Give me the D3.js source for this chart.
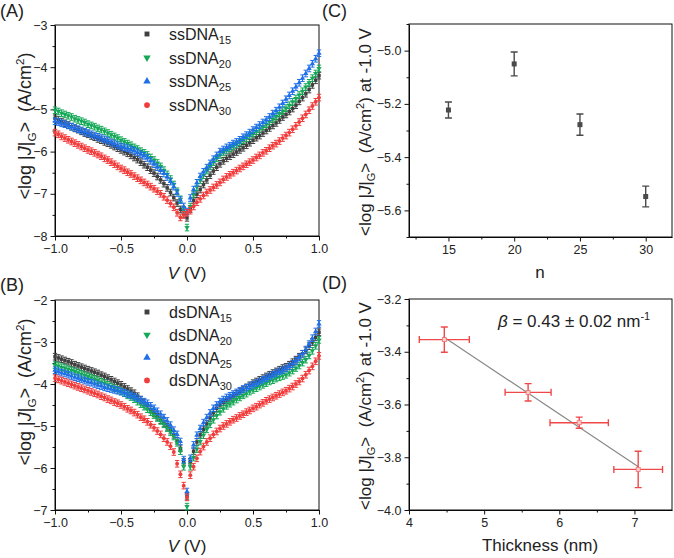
<!DOCTYPE html>
<html><head><meta charset="utf-8">
<script src="https://cdn.jsdelivr.net/npm/d3@7"></script>
<style>body{margin:0;background:#fff} svg{font-family:"Liberation Sans",Arial,sans-serif} text{white-space:pre}</style>
</head><body><svg id="c" width="674" height="558"></svg>
<script>
// ---------- DATA ----------
const voltage = d3.range(81).map(i => +(-1 + i * 0.025).toFixed(3));
const seriesSubs = ["15", "20", "25", "30"];
const seriesColors = ["#404040", "#14a857", "#1f6fe8", "#f23c3c"];

// Panel A: ssDNA, <log|J|G> vs V
const ss15 = [-5.21,-5.25,-5.29,-5.33,-5.37,-5.41,-5.45,-5.48,-5.52,-5.56,-5.59,-5.63,-5.66,-5.70,-5.73,-5.77,-5.80,-5.84,-5.88,-5.92,-5.96,-6.00,-6.04,-6.09,-6.14,-6.19,-6.25,-6.31,-6.37,-6.44,-6.51,-6.59,-6.67,-6.76,-6.86,-6.97,-7.09,-7.22,-7.37,-7.49,
  -7.57,
  -7.36,-7.16,-7.01,-6.90,-6.78,-6.67,-6.56,-6.46,-6.37,-6.29,-6.22,-6.16,-6.11,-6.06,-6.01,-5.96,-5.91,-5.85,-5.79,-5.73,-5.67,-5.62,-5.56,-5.50,-5.44,-5.38,-5.32,-5.25,-5.18,-5.12,-5.05,-4.98,-4.90,-4.81,-4.72,-4.63,-4.53,-4.42,-4.31,-4.20];
const ss20 = [-5.02,-5.05,-5.09,-5.12,-5.15,-5.18,-5.22,-5.25,-5.28,-5.31,-5.35,-5.38,-5.41,-5.45,-5.48,-5.52,-5.56,-5.60,-5.64,-5.68,-5.73,-5.77,-5.81,-5.85,-5.90,-5.94,-5.99,-6.03,-6.08,-6.14,-6.20,-6.27,-6.35,-6.44,-6.54,-6.65,-6.78,-6.94,-7.13,-7.38,
  -7.80,
  -7.30,-7.02,-6.84,-6.68,-6.56,-6.45,-6.35,-6.25,-6.16,-6.08,-6.02,-5.97,-5.92,-5.87,-5.83,-5.78,-5.73,-5.68,-5.62,-5.57,-5.52,-5.46,-5.41,-5.35,-5.29,-5.23,-5.17,-5.10,-5.04,-4.97,-4.90,-4.82,-4.74,-4.66,-4.57,-4.47,-4.37,-4.26,-4.15,-4.03];
const ss25 = [-5.28,-5.30,-5.33,-5.35,-5.38,-5.41,-5.44,-5.47,-5.50,-5.53,-5.56,-5.59,-5.62,-5.65,-5.68,-5.71,-5.74,-5.78,-5.81,-5.85,-5.88,-5.90,-5.92,-5.95,-5.98,-6.02,-6.06,-6.10,-6.15,-6.22,-6.30,-6.37,-6.45,-6.52,-6.60,-6.71,-6.83,-6.98,-7.15,-7.30,
  -7.42,
  -7.10,-6.90,-6.74,-6.59,-6.48,-6.38,-6.28,-6.18,-6.09,-6.00,-5.95,-5.90,-5.86,-5.81,-5.77,-5.72,-5.66,-5.61,-5.55,-5.49,-5.43,-5.37,-5.31,-5.25,-5.18,-5.10,-5.03,-4.95,-4.86,-4.76,-4.67,-4.57,-4.47,-4.37,-4.26,-4.15,-4.03,-3.92,-3.80,-3.67];
const ss30 = [-5.55,-5.59,-5.64,-5.68,-5.72,-5.76,-5.80,-5.84,-5.88,-5.92,-5.96,-5.99,-6.03,-6.07,-6.11,-6.16,-6.20,-6.25,-6.30,-6.35,-6.40,-6.44,-6.49,-6.53,-6.58,-6.63,-6.68,-6.73,-6.78,-6.83,-6.88,-6.94,-7.00,-7.07,-7.15,-7.23,-7.32,-7.45,-7.56,-7.50,
  -7.45,
  -7.40,-7.30,-7.20,-7.12,-7.04,-6.97,-6.91,-6.85,-6.79,-6.73,-6.66,-6.60,-6.55,-6.50,-6.45,-6.40,-6.35,-6.30,-6.25,-6.20,-6.14,-6.09,-6.03,-5.98,-5.92,-5.86,-5.81,-5.75,-5.68,-5.62,-5.55,-5.47,-5.39,-5.30,-5.21,-5.12,-5.02,-4.92,-4.82,-4.72];

// Panel B: dsDNA
const ds15 = [-3.35,-3.38,-3.41,-3.44,-3.47,-3.50,-3.54,-3.57,-3.60,-3.63,-3.66,-3.69,-3.72,-3.75,-3.79,-3.82,-3.86,-3.90,-3.94,-3.98,-4.02,-4.07,-4.12,-4.17,-4.22,-4.29,-4.37,-4.44,-4.52,-4.61,-4.70,-4.78,-4.86,-4.94,-5.02,-5.11,-5.21,-5.35,-5.53,-5.85,
  -6.68,
  -5.85,-5.60,-5.38,-5.21,-5.08,-4.95,-4.81,-4.68,-4.58,-4.50,-4.44,-4.38,-4.33,-4.28,-4.23,-4.18,-4.13,-4.08,-4.03,-3.98,-3.94,-3.90,-3.86,-3.82,-3.78,-3.74,-3.70,-3.66,-3.62,-3.59,-3.54,-3.48,-3.42,-3.35,-3.28,-3.20,-3.10,-3.00,-2.89,-2.77];
const ds20 = [-3.55,-3.57,-3.60,-3.62,-3.65,-3.68,-3.70,-3.73,-3.76,-3.79,-3.82,-3.85,-3.88,-3.91,-3.95,-3.98,-4.02,-4.06,-4.10,-4.14,-4.18,-4.22,-4.27,-4.31,-4.36,-4.42,-4.48,-4.54,-4.60,-4.67,-4.74,-4.81,-4.88,-4.96,-5.05,-5.15,-5.25,-5.40,-5.60,-5.97,
  -6.92,
  -5.97,-5.75,-5.55,-5.37,-5.22,-5.08,-4.96,-4.85,-4.75,-4.66,-4.59,-4.52,-4.47,-4.42,-4.37,-4.32,-4.27,-4.23,-4.18,-4.14,-4.10,-4.06,-4.02,-3.98,-3.94,-3.91,-3.87,-3.84,-3.81,-3.78,-3.73,-3.68,-3.62,-3.56,-3.49,-3.42,-3.32,-3.21,-3.09,-2.95];
const ds25 = [-3.67,-3.70,-3.73,-3.75,-3.78,-3.81,-3.84,-3.86,-3.89,-3.92,-3.95,-3.97,-4.00,-4.03,-4.05,-4.08,-4.10,-4.12,-4.14,-4.16,-4.18,-4.21,-4.24,-4.27,-4.30,-4.34,-4.38,-4.42,-4.46,-4.52,-4.58,-4.65,-4.72,-4.80,-4.88,-4.98,-5.10,-5.20,-5.37,-5.80,
  -6.56,
  -5.77,-5.45,-5.22,-5.06,-4.92,-4.80,-4.69,-4.58,-4.50,-4.42,-4.37,-4.32,-4.28,-4.24,-4.20,-4.16,-4.12,-4.09,-4.05,-4.02,-3.98,-3.94,-3.90,-3.86,-3.82,-3.78,-3.74,-3.70,-3.67,-3.63,-3.58,-3.52,-3.45,-3.37,-3.28,-3.18,-3.05,-2.91,-2.75,-2.57];
const ds30 = [-3.86,-3.89,-3.92,-3.95,-3.98,-4.01,-4.04,-4.07,-4.10,-4.13,-4.16,-4.19,-4.22,-4.25,-4.29,-4.32,-4.36,-4.39,-4.43,-4.46,-4.50,-4.54,-4.59,-4.63,-4.68,-4.73,-4.79,-4.84,-4.90,-4.97,-5.04,-5.12,-5.20,-5.29,-5.38,-5.48,-5.62,-5.90,-6.15,-6.42,
  -6.70,
  -6.17,-5.97,-5.77,-5.61,-5.49,-5.38,-5.29,-5.20,-5.13,-5.06,-5.00,-4.95,-4.90,-4.85,-4.81,-4.76,-4.72,-4.67,-4.63,-4.58,-4.54,-4.49,-4.45,-4.40,-4.36,-4.32,-4.28,-4.24,-4.20,-4.16,-4.11,-4.06,-4.00,-3.94,-3.87,-3.78,-3.68,-3.58,-3.46,-3.33];

// Panel C
const nValues = [15, 20, 25, 30];
const cMeans = [-5.223, -5.050, -5.278, -5.548];
const cErrors = [0.030, 0.045, 0.040, 0.039];

// Panel D
const thickness = [4.47, 5.585, 6.265, 7.05];
const thicknessErr = [0.333, 0.306, 0.388, 0.324];
const dMeans = [-3.354, -3.554, -3.669, -3.846];
const dErrors = [0.048, 0.033, 0.021, 0.069];
const fitX = [4.457, 7.052];
const fitY = [-3.343, -3.836];

// ---------- DRAW ----------
const svg = d3.select("#c");
const FONT_TICK = 12.5;

function drawAxes(x, y, xMajor, xMinor, yMajor, yMinor, xFmt, yFmt) {
  const [x0, x1] = x.range(), [y0, y1] = y.range();
  const gx = svg.append("g").attr("transform", `translate(0,${y0})`);
  gx.call(d3.axisBottom(x).tickValues(xMinor).tickSize(2.5).tickFormat("").tickSizeOuter(0));
  gx.call(g => g.select(".domain").remove());
  const gx2 = svg.append("g").attr("transform", `translate(0,${y0})`);
  gx2.call(d3.axisBottom(x).tickValues(xMajor).tickSize(4.5).tickPadding(4).tickFormat(xFmt).tickSizeOuter(0));
  const gy = svg.append("g").attr("transform", `translate(${x0},0)`);
  gy.call(d3.axisLeft(y).tickValues(yMinor).tickSize(2.5).tickFormat("").tickSizeOuter(0));
  gy.call(g => g.select(".domain").remove());
  const gy2 = svg.append("g").attr("transform", `translate(${x0},0)`);
  gy2.call(d3.axisLeft(y).tickValues(yMajor).tickSize(4.5).tickPadding(3).tickFormat(yFmt).tickSizeOuter(0));
  svg.selectAll(".tick text").attr("font-size", FONT_TICK).attr("font-family", '"Liberation Sans",Arial,sans-serif').attr("fill", "#222");
  svg.selectAll(".tick line").attr("stroke", "#111");
  svg.append("rect").attr("x", x0).attr("y", y1).attr("width", x1 - x0).attr("height", y0 - y1)
    .attr("fill", "none").attr("stroke", "#111").attr("stroke-width", 1);
}

function yTitle(cx, cy, size, parts) {
  const t = svg.append("text").attr("transform", `translate(${cx},${cy}) rotate(-90)`)
    .attr("text-anchor", "middle").attr("font-size", size).attr("fill", "#222");
  parts.forEach(p => {
    const s = t.append("tspan").text(p.t);
    if (p.sub) s.attr("font-size", size * 0.65).attr("dy", size * 0.25);
    if (p.sup) s.attr("font-size", size * 0.65).attr("dy", -size * 0.4);
    if (p.dy) s.attr("dy", p.dy);
    if (p.it) s.attr("font-style", "italic");
  });
}

function symbolFor(i, size) {
  const types = [d3.symbolSquare, d3.symbolTriangle, d3.symbolTriangle, d3.symbolCircle];
  return d3.symbol().type(types[i]).size(size)();
}
const rot = [0, 180, 0, 0];

function drawIV(x, y, seriesList, legendX, legendY, legendStep, prefix) {
  seriesList.forEach((vals, si) => {
    const g = svg.append("g").attr("stroke", seriesColors[si]).attr("fill", seriesColors[si]);
    vals.forEach((v, k) => {
      const px = x(voltage[k]), py = y(v);
      g.append("path").attr("d", `M${px},${py - 3.3}V${py + 3.3}M${px - 2.2},${py - 3.3}H${px + 2.2}M${px - 2.2},${py + 3.3}H${px + 2.2}`)
        .attr("stroke-width", 1).attr("fill", "none");
      g.append("path").attr("d", symbolFor(si, 12)).attr("stroke", "none")
        .attr("transform", `translate(${px},${py}) rotate(${rot[si]})`);
    });
  });
  seriesList.forEach((vals, si) => {
    const ly = legendY + si * legendStep;
    svg.append("path").attr("d", symbolFor(si, si === 3 ? 26 : 24)).attr("fill", seriesColors[si])
      .attr("transform", `translate(${legendX},${ly}) rotate(${rot[si]})`);
    const t = svg.append("text").attr("x", legendX + 22).attr("y", ly + 6).attr("font-size", 16).attr("fill", "#222");
    t.append("tspan").text(prefix);
    t.append("tspan").text(seriesSubs[si]).attr("font-size", 11).attr("dy", 4);
  });
}

// Panel A
const xA = d3.scaleLinear().domain([-1, 1]).range([55, 319]);
const yA = d3.scaleLinear().domain([-8, -3]).range([236, 25]);
drawAxes(xA, yA, [-1, -0.5, 0, 0.5, 1], [-0.75, -0.25, 0.25, 0.75], [-8, -7, -6, -5, -4, -3], [-7.5, -6.5, -5.5, -4.5, -3.5], d3.format(".1f"), d3.format("d"));
drawIV(xA, yA, [ss15, ss20, ss25, ss30], 147, 34, 23.7, "ssDNA");

// Panel B
const xB = d3.scaleLinear().domain([-1, 1]).range([55, 319]);
const yB = d3.scaleLinear().domain([-7, -2]).range([510, 300]);
drawAxes(xB, yB, [-1, -0.5, 0, 0.5, 1], [-0.75, -0.25, 0.25, 0.75], [-7, -6, -5, -4, -3, -2], [-6.5, -5.5, -4.5, -3.5, -2.5], d3.format(".1f"), d3.format("d"));
drawIV(xB, yB, [ds15, ds20, ds25, ds30], 147, 312, 22.8, "dsDNA");

// Panel C
const xC = d3.scaleLinear().domain([12, 32]).range([409, 672]);
const yC = d3.scaleLinear().domain([-5.7, -4.9]).range([237, 24]);
drawAxes(xC, yC, [15, 20, 25, 30], [12.5, 17.5, 22.5, 27.5], [-5.6, -5.4, -5.2, -5.0], [-5.7, -5.5, -5.3, -5.1, -4.9], d3.format("d"), d3.format(".1f"));
nValues.forEach((n, i) => {
  const px = xC(n), pt = yC(cMeans[i] + cErrors[i]), pb = yC(cMeans[i] - cErrors[i]);
  svg.append("path").attr("d", `M${px},${pt}V${pb}M${px - 3.5},${pt}H${px + 3.5}M${px - 3.5},${pb}H${px + 3.5}`)
    .attr("stroke", "#4a4a4a").attr("stroke-width", 1.4).attr("fill", "none");
  svg.append("rect").attr("x", px - 2.5).attr("y", yC(cMeans[i]) - 2.5).attr("width", 5).attr("height", 5).attr("fill", "#4a4a4a");
});

// Panel D
const xD = d3.scaleLinear().domain([4, 7.5]).range([409, 672]);
const yD = d3.scaleLinear().domain([-4.0, -3.2]).range([510, 299]);
drawAxes(xD, yD, [4, 5, 6, 7], [4.5, 5.5, 6.5], [-4.0, -3.8, -3.6, -3.4, -3.2], [-3.9, -3.7, -3.5, -3.3], d3.format("d"), d3.format(".1f"));
svg.append("line").attr("x1", xD(fitX[0])).attr("y1", yD(fitY[0])).attr("x2", xD(fitX[1])).attr("y2", yD(fitY[1]))
  .attr("stroke", "#8a8a8a").attr("stroke-width", 1.2);
thickness.forEach((t, i) => {
  const px = xD(t), py = yD(dMeans[i]);
  const xl = xD(t - thicknessErr[i]), xr = xD(t + thicknessErr[i]);
  const yt = yD(dMeans[i] + dErrors[i]), yb = yD(dMeans[i] - dErrors[i]);
  svg.append("path").attr("d", `M${xl},${py}H${xr}M${xl},${py - 3.5}V${py + 3.5}M${xr},${py - 3.5}V${py + 3.5}M${px},${yt}V${yb}M${px - 3.5},${yt}H${px + 3.5}M${px - 3.5},${yb}H${px + 3.5}`)
    .attr("stroke", "#f04848").attr("stroke-width", 1.4).attr("fill", "none");
  svg.append("rect").attr("x", px - 2).attr("y", py - 2).attr("width", 4).attr("height", 4)
    .attr("fill", "#fbd0d0").attr("stroke", "#f07070").attr("stroke-width", 0.8);
});
{
  const t = svg.append("text").attr("x", 498).attr("y", 327).attr("font-size", 17).attr("fill", "#222");
  t.append("tspan").text("β").attr("font-style", "italic");
  t.append("tspan").text(" = 0.43 ± 0.02 nm");
  t.append("tspan").text("-1").attr("font-size", 11).attr("dy", -7);
}

// Titles
const titleSize = 17;
yTitle(31, 126, 18, [{t: "<log |"}, {t: "J", it: true}, {t: "|"}, {t: "G", sub: true}, {t: ">  (A/cm", dy: -18 * 0.25}, {t: "2", sup: true}, {t: ")", dy: 18 * 0.4}]);
yTitle(31, 392, 18, [{t: "<log |"}, {t: "J", it: true}, {t: "|"}, {t: "G", sub: true}, {t: ">  (A/cm", dy: -18 * 0.25}, {t: "2", sup: true}, {t: ")", dy: 18 * 0.4}]);
yTitle(371, 132, titleSize, [{t: "<log |"}, {t: "J", it: true}, {t: "|"}, {t: "G", sub: true}, {t: ">  (A/cm", dy: -titleSize * 0.25}, {t: "2", sup: true}, {t: ") at -1.0 V", dy: titleSize * 0.4}]);
yTitle(371, 406, titleSize, [{t: "<log |"}, {t: "J", it: true}, {t: "|"}, {t: "G", sub: true}, {t: ">  (A/cm", dy: -titleSize * 0.25}, {t: "2", sup: true}, {t: ") at -1.0 V", dy: titleSize * 0.4}]);

function xTitle(cx, y, parts, size) {
  const t = svg.append("text").attr("x", cx).attr("y", y).attr("text-anchor", "middle").attr("font-size", size).attr("fill", "#222");
  parts.forEach(p => { const s = t.append("tspan").text(p.t); if (p.it) s.attr("font-style", "italic"); });
}
xTitle(187, 279, [{t: "V", it: true}, {t: " (V)"}], 17);
xTitle(187, 552, [{t: "V", it: true}, {t: " (V)"}], 17);
xTitle(540, 278, [{t: "n"}], 17);
xTitle(540, 551, [{t: "Thickness (nm)"}], 17);

// Panel labels
[["(A)", 0, 17], ["(B)", 0, 291], ["(C)", 322, 17], ["(D)", 322, 289]].forEach(([s, x, y]) =>
  svg.append("text").attr("x", x).attr("y", y).attr("font-size", 18).attr("fill", "#222").text(s));
</script></body></html>
